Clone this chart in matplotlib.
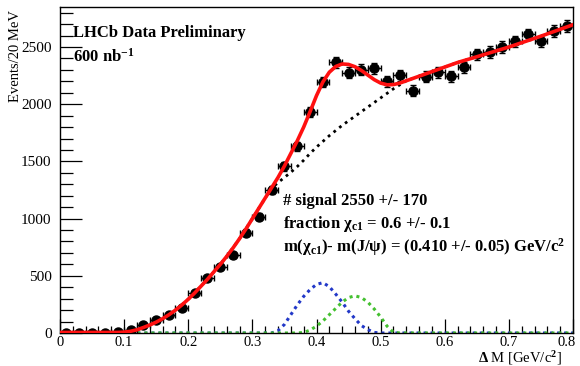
import matplotlib
matplotlib.use("Agg")
import matplotlib.pyplot as plt
import matplotlib.transforms as mtransforms
from matplotlib.ticker import MultipleLocator

# ---- data ----
data_x = [0.01, 0.03, 0.05, 0.07, 0.09, 0.11, 0.13, 0.15, 0.17, 0.19,
          0.21, 0.23, 0.25, 0.27, 0.29, 0.31, 0.33, 0.35, 0.37, 0.39,
          0.41, 0.43, 0.45, 0.47, 0.49, 0.51, 0.53, 0.55, 0.57, 0.59,
          0.61, 0.63, 0.65, 0.67, 0.69, 0.71, 0.73, 0.75, 0.77, 0.79]
data_y = [0, 0, 0, 0, 9, 26, 70, 114, 160, 219,
          350, 480, 580, 684, 877, 1017, 1254, 1456, 1631, 1929,
          2195, 2365, 2275, 2300, 2315, 2200, 2255, 2120, 2240, 2280,
          2245, 2325, 2435, 2455, 2500, 2550, 2610, 2550, 2640, 2685]
data_yerr = [3, 3, 3, 3, 4, 6, 9, 11, 13, 15,
             19, 22, 24, 26, 30, 32, 35, 38, 40, 44,
             47, 49, 48, 48, 48, 47, 48, 46, 47, 48,
             47, 48, 49, 50, 50, 50, 51, 50, 51, 52]

total_x = [0.0, 0.05, 0.09, 0.10, 0.11, 0.12, 0.13, 0.14, 0.15, 0.16,
           0.17, 0.18, 0.19, 0.20, 0.21, 0.22, 0.23, 0.24, 0.25, 0.26,
           0.27, 0.28, 0.29, 0.30, 0.31, 0.32, 0.33, 0.34, 0.35, 0.36,
           0.37, 0.38, 0.39, 0.40, 0.41, 0.42, 0.43, 0.44, 0.45, 0.46,
           0.47, 0.48, 0.49, 0.50, 0.51, 0.52, 0.53, 0.54, 0.56, 0.58,
           0.60, 0.62, 0.65, 0.70, 0.75, 0.80]
total_y = [5, 5, 5, 8, 15, 28, 48, 70, 95, 125,
           160, 200, 245, 295, 350, 410, 470, 535, 600, 670,
           745, 825, 910, 1000, 1090, 1180, 1270, 1360, 1460, 1570,
           1680, 1800, 1935, 2075, 2195, 2280, 2330, 2352, 2348, 2328,
           2295, 2255, 2215, 2185, 2170, 2172, 2185, 2205, 2245, 2285,
           2325, 2365, 2415, 2500, 2595, 2695]

bkg_x = [0.10, 0.12, 0.14, 0.16, 0.18, 0.20, 0.22, 0.24, 0.26, 0.28,
         0.30, 0.32, 0.33, 0.34, 0.35, 0.36, 0.37, 0.38, 0.39, 0.40,
         0.41, 0.42, 0.43, 0.44, 0.45, 0.46, 0.47, 0.48, 0.49, 0.50,
         0.51, 0.52, 0.53, 0.54, 0.56, 0.58, 0.60, 0.62, 0.65, 0.70,
         0.75, 0.80]
bkg_y = [8, 28, 70, 125, 200, 295, 410, 535, 670, 825,
         1000, 1180, 1265, 1315, 1360, 1405, 1455, 1510, 1570, 1625,
         1675, 1725, 1770, 1815, 1855, 1895, 1935, 1975, 2015, 2055,
         2095, 2135, 2170, 2205, 2245, 2285, 2325, 2365, 2415, 2500,
         2595, 2695]

chic1_x = [0.0, 0.33, 0.34, 0.35, 0.36, 0.37, 0.38, 0.39, 0.40, 0.41,
           0.42, 0.43, 0.44, 0.45, 0.46, 0.47, 0.48, 0.49, 0.50, 0.80]
chic1_y = [0, 0, 20, 75, 160, 245, 320, 380, 425, 440,
           405, 340, 270, 190, 125, 65, 30, 5, 0, 0]

chic2_x = [0.0, 0.37, 0.38, 0.39, 0.40, 0.41, 0.42, 0.43, 0.44, 0.45,
           0.46, 0.47, 0.48, 0.49, 0.50, 0.51, 0.52, 0.53, 0.80]
chic2_y = [0, 0, 5, 25, 60, 105, 160, 215, 270, 310,
           325, 310, 270, 210, 140, 60, 5, 0, 0]

title_lines = ["LHCb Data Preliminary", r"600 nb$^{-1}$"]
fit_lines = [r"# signal 2550 +/- 170",
             r"fraction $\chi_{c1}$ = 0.6 +/- 0.1",
             r"m($\chi_{c1}$)- m(J/$\psi$) = (0.410 +/- 0.05) GeV/c$^{2}$"]
xlabel = r"$\Delta$ M [GeV/c$^{2}$]"
ylabel = "Events/20 MeV"

# ---- style ----
serif = "Liberation Serif"
plt.rcParams["font.family"] = [serif, "DejaVu Serif"]
plt.rcParams["mathtext.fontset"] = "custom"
plt.rcParams["mathtext.rm"] = "Liberation Serif:bold"
plt.rcParams["mathtext.it"] = "Liberation Serif:bold"
plt.rcParams["mathtext.bf"] = "Liberation Serif:bold"

fig = plt.figure(figsize=(5.8, 3.66), dpi=100)
ax = fig.add_axes([60/580, 1-333/366, (573-60)/580, (333-7)/366])

ax.plot(chic1_x, chic1_y, color="#2238c8", lw=2.2, ls=(0, (1, 1.3)), zorder=2)
ax.plot(chic2_x, chic2_y, color="#44c030", lw=2.2, ls=(0, (1, 1.3)), zorder=2)
ax.plot(bkg_x, bkg_y, color="black", lw=2.0, ls=(0, (1, 1.6)), zorder=2.5)
ax.errorbar(data_x, data_y, yerr=data_yerr, xerr=0.01, fmt="o", color="black",
            ms=6.5, elinewidth=1.0, capsize=2, capthick=1.0, zorder=3)
ax.plot(total_x, total_y, color="#ff1010", lw=2.6, zorder=4)

ax.set_xlim(0, 0.8)
ax.set_ylim(0, 2850)
ax.xaxis.set_major_locator(MultipleLocator(0.1))
ax.xaxis.set_minor_locator(MultipleLocator(0.02))
ax.yaxis.set_major_locator(MultipleLocator(500))
ax.yaxis.set_minor_locator(MultipleLocator(100))
ax.tick_params(axis="both", which="both", direction="in", top=False, right=False,
               labelsize=11, width=0.9)
ax.tick_params(axis="y", which="major", length=16, pad=6)
ax.tick_params(axis="y", which="minor", length=9)
ax.tick_params(axis="x", which="major", length=10, pad=2, labelsize=10.5)
ax.tick_params(axis="x", which="minor", length=5)
ax.xaxis.set_major_formatter(plt.FuncFormatter(lambda v, p: f"{v:g}"))
for s in ax.spines.values():
    s.set_linewidth(1.0)

fig.canvas.draw()
for lab in ax.get_xticklabels():
    if lab.get_text() == "0.8":
        lab.set_transform(lab.get_transform() +
                          mtransforms.ScaledTranslation(-6/100, 0, fig.dpi_scale_trans))

fig.text(16/580, 1-10/366, ylabel, rotation=90, ha="center", va="top", fontsize=10.5)
fig.text(562/580, 1-358/366, xlabel, ha="right", va="center", fontsize=10.5)

fig.text(73/580, 1-33/366, title_lines[0], ha="left", va="center", fontsize=12,
         fontweight="bold")
fig.text(73/580, 1-57/366, title_lines[1], ha="left", va="center", fontsize=12,
         fontweight="bold")

for i, t in enumerate(fit_lines):
    fig.text(283/580, 1-(201 + 23*i)/366, t, ha="left", va="center", fontsize=12,
             fontweight="bold")

fig.savefig("out.png", dpi=100)
